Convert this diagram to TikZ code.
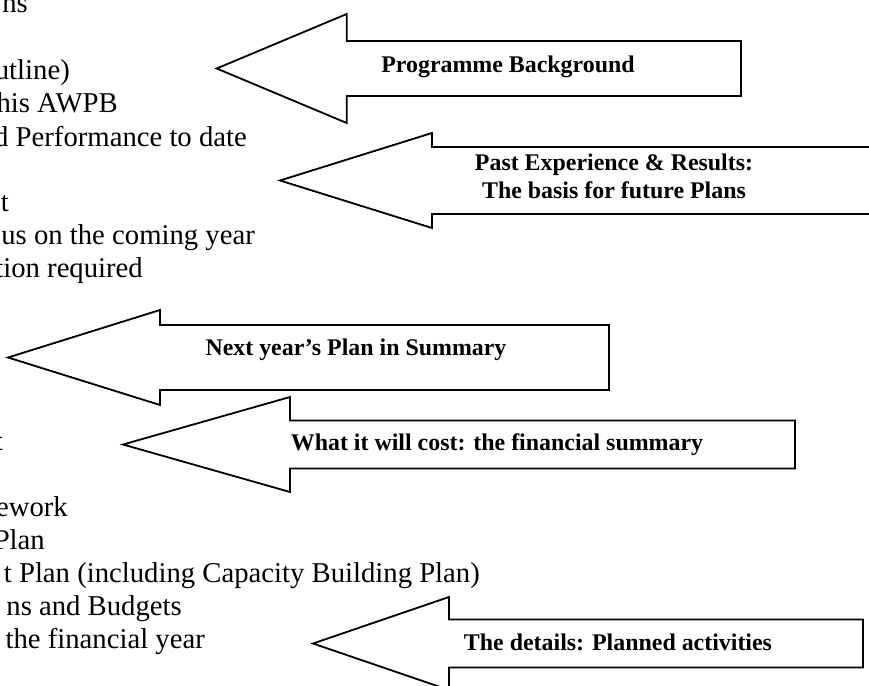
\documentclass[tikz,border=0pt]{standalone}
\usepackage{fontspec}
\setmainfont{Liberation Serif}

% Block arrow pointing left:
% #1 tip x, #2 centre y, #3 x of the head's back, #4 half height of head,
% #5 half height of shaft, #6 x of the tail
\newcommand\leftblock[6]{%
  \draw[arrowbody] (#1,#2) -- (#3,{#2-#4}) -- (#3,{#2-#5}) -- (#6,{#2-#5})
    -- (#6,{#2+#5}) -- (#3,{#2+#5}) -- (#3,{#2+#4}) -- cycle;}

\begin{document}
\begin{tikzpicture}[x=1pt,y=-1pt,
  arrowbody/.style={draw=black,line width=1.8pt,line join=miter,fill=white},
  bodytext/.style={anchor=base east,inner sep=0pt,font=\fontsize{28.7}{33}\selectfont},
  arrowtext/.style={anchor=base,inner sep=0pt,font=\fontsize{23.9}{28}\selectfont\bfseries}]
\useasboundingbox (0,0) rectangle (869,685);
\clip (0,0) rectangle (869,685);

% outline text running in from the left margin
\node[bodytext] (l1)  at (28,13)   {ns};
\node[bodytext] (l2)  at (70,79)   {utline)};
\node[bodytext] (l3)  at (118,112) {his AWPB};
\node[bodytext] (l4)  at (247,146) {d Performance to date};
\node[bodytext] (l5)  at (9,211)   {t};
\node[bodytext] (l6)  at (255,244) {us on the coming year};
\node[bodytext] (l7)  at (143,277) {tion required};
\node[bodytext] (l8)  at (3,450)   {t};
\node[bodytext] (l9)  at (68,516)  {ework};
\node[bodytext] (l10) at (45,549)  {Plan};
\node[bodytext] (l11) at (480,582) {t Plan (including Capacity Building Plan)};
\node[bodytext] (l12) at (182,615) {ns and Budgets};
\node[bodytext] (l13) at (205,648) {f the financial year};

% block arrows
\leftblock{216.7}{68.5}{346.7}{54.5}{27.5}{741}
\draw[arrowbody,fill=none] (880,147) -- (432,147) -- (432,133) -- (280,180.5)
  -- (432,228) -- (432,214) -- (880,214);
\leftblock{8}{357.5}{160}{47.5}{32.5}{609}
\leftblock{123}{444.5}{290}{47.5}{24}{795}
\leftblock{313}{643.5}{449}{46.5}{24}{863}

% arrow captions
\node[arrowtext] (a1)  at (508,72)    {Programme Background};
\node[arrowtext] (a2a) at (614,170.5) {Past Experience \& Results:};
\node[arrowtext] (a2b) at (614,198.5) {The basis for future Plans};
\node[arrowtext] (a3)  at (356,355)   {Next year’s Plan in Summary};
\node[arrowtext] (a4)  at (497,450)   {What it will cost: the financial summary};
\node[arrowtext] (a5)  at (618,650)   {The details: Planned activities};
\end{tikzpicture}
\end{document}
